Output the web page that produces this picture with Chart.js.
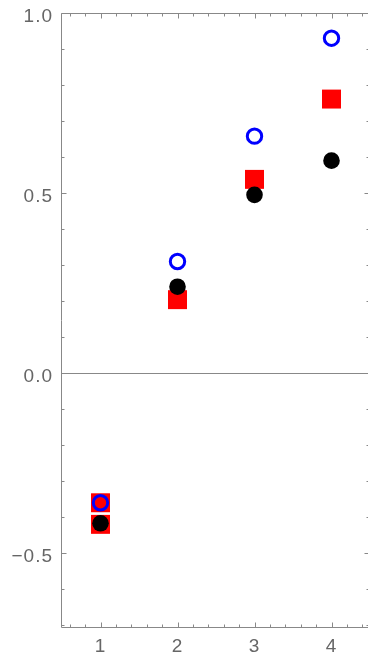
<!DOCTYPE html>
<html><head><meta charset="utf-8">
<script src="https://cdn.jsdelivr.net/npm/chart.js@4/dist/chart.umd.min.js"></script>
<style>
html,body{margin:0;padding:0;overflow:hidden;background:#fff;width:368px;height:655px}
#wrap{position:absolute;left:0;top:0;width:371px;height:655px}
canvas{display:block}
</style>
</head><body><div id="wrap"><canvas id="c" width="371" height="655"></canvas></div>
<script>
// ---- data ----
const blueX = [1, 2, 3, 4];
const blueOpen = [-0.36, 0.31, 0.658, 0.93];
const redX = [1, 1, 2, 3, 4];
const redSquare = [-0.36, -0.42, 0.204, 0.538, 0.761];
const blackX = [1, 2, 3, 4];
const blackFilled = [-0.417, 0.24, 0.495, 0.59];
const xTickValues = [1, 2, 3, 4];
const xTickLabels = ["1", "2", "3", "4"];
const yTickValues = [-0.5, 0, 0.5, 1.0];
const yTickLabels = ["\u22120.5", "0.0", "0.5", "1.0"];
const xRange = [0.5, 4.5];
const yRange = [-0.705, 1.0];

const pts = (xs, ys) => xs.map((x, i) => ({x: x, y: ys[i]}));

const FRAME = '#888888';
const LABEL = '#666666';

const zeroPad = s => { s.paddingTop = 0; s.paddingBottom = 0; s.paddingLeft = 0; s.paddingRight = 0; };

const framePlugin = {
  id: 'frame',
  beforeDraw(chart) {
    chart.ctx.letterSpacing = '1px';
  },
  afterDraw(chart) {
    chart.ctx.letterSpacing = '0px';
  },
  beforeDatasetsDraw(chart) {
    const ctx = chart.ctx;
    const a = chart.chartArea;
    const xs = chart.scales.x, ys = chart.scales.y;
    const L = Math.round(a.left) - 0.5, R = Math.round(a.right) - 0.5;
    const T = Math.round(a.top) + 0.5, B = Math.round(a.bottom) + 0.5;
    ctx.save();
    ctx.strokeStyle = FRAME;
    ctx.lineWidth = 1;
    // zero line
    const y0 = Math.round(ys.getPixelForValue(0)) + 0.5;
    ctx.beginPath(); ctx.moveTo(L, y0); ctx.lineTo(R, y0); ctx.stroke();
    // frame
    ctx.beginPath();
    ctx.moveTo(L, T); ctx.lineTo(R, T); ctx.lineTo(R, B); ctx.lineTo(L, B); ctx.closePath();
    ctx.stroke();
    // x ticks (minor every 0.2, major at integer tick values)
    ctx.beginPath();
    for (let k = Math.ceil(xRange[0] * 5 + 1e-9); k <= Math.floor(xRange[1] * 5 - 1e-9); k++) {
      const v = k / 5;
      const major = xTickValues.some(t => Math.abs(t - v) < 1e-6);
      const len = major ? 5 : 3;
      const px = Math.round(xs.getPixelForValue(v)) + 0.5;
      ctx.moveTo(px, B); ctx.lineTo(px, B - len);
      ctx.moveTo(px, T); ctx.lineTo(px, T + len);
    }
    // y ticks (minor every 0.1, major at labelled values)
    for (let k = Math.ceil(yRange[0] * 10 - 1e-9); k <= Math.floor(yRange[1] * 10 + 1e-9); k++) {
      const v = k / 10;
      const major = yTickValues.some(t => Math.abs(t - v) < 1e-6);
      const len = major ? 5 : 3;
      const py = Math.round(ys.getPixelForValue(v)) + 0.5;
      ctx.moveTo(L, py); ctx.lineTo(L + len, py);
      ctx.moveTo(R, py); ctx.lineTo(R - len, py);
    }
    ctx.stroke();
    ctx.restore();
  }
};

const chart = new Chart(document.getElementById('c'), {
  type: 'scatter',
  data: {
    datasets: [
      { label: 'blue', data: pts(blueX, blueOpen), order: 0,
        pointStyle: 'circle', pointRadius: 7.2, pointBorderWidth: 3,
        pointBorderColor: '#0000ff', pointBackgroundColor: 'rgba(0,0,0,0)' },
      { label: 'black', data: pts(blackX, blackFilled), order: 1,
        pointStyle: 'circle', pointRadius: 8.3, pointBorderWidth: 0,
        pointBorderColor: '#000000', pointBackgroundColor: '#000000' },
      { label: 'red', data: pts(redX, redSquare), order: 2,
        pointStyle: 'rect', pointRadius: 13.4, pointBorderWidth: 0,
        pointBorderColor: '#ff0000', pointBackgroundColor: '#ff0000' }
    ]
  },
  options: {
    responsive: false,
    maintainAspectRatio: false,
    animation: false,
    devicePixelRatio: 1,
    events: [],
    layout: { autoPadding: false, padding: { top: 13, right: 1, left: 0, bottom: 0 } },
    plugins: { legend: { display: false }, tooltip: { enabled: false } },
    scales: {
      x: {
        type: 'linear', min: xRange[0], max: xRange[1],
        grid: { display: false, drawTicks: false }, border: { display: false },
        afterBuildTicks: s => { s.ticks = xTickValues.map(v => ({ value: v })); },
        afterFit: s => { s.height = 28; zeroPad(s); },
        ticks: {
          padding: 8, color: LABEL, autoSkip: false, maxRotation: 0,
          font: { family: "'Liberation Sans', Arial, sans-serif", size: 19 },
          callback: v => xTickLabels[xTickValues.findIndex(t => Math.abs(t - v) < 1e-9)]
        }
      },
      y: {
        type: 'linear', min: yRange[0], max: yRange[1],
        grid: { display: false, drawTicks: false }, border: { display: false },
        afterBuildTicks: s => { s.ticks = yTickValues.map(v => ({ value: v })); },
        afterFit: s => { s.width = 62; zeroPad(s); },
        ticks: {
          padding: 9, labelOffset: 4, color: LABEL, autoSkip: false,
          font: { family: "'Liberation Sans', Arial, sans-serif", size: 19 },
          callback: v => yTickLabels[yTickValues.findIndex(t => Math.abs(t - v) < 1e-9)]
        }
      }
    }
  },
  plugins: [framePlugin]
});
</script>
</body></html>
